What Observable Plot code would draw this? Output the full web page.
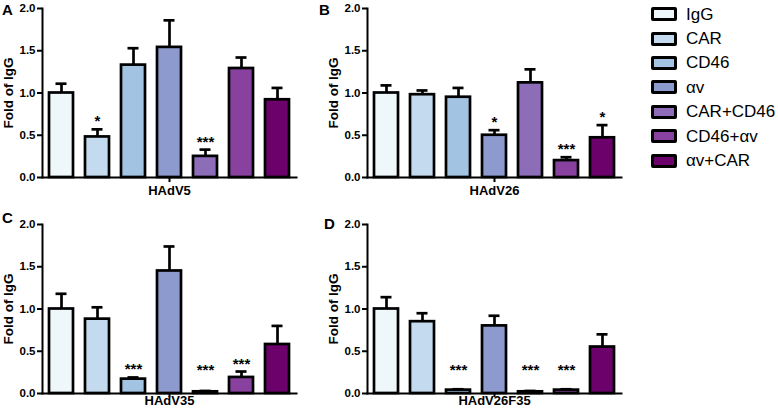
<!DOCTYPE html>
<html>
<head>
<meta charset="utf-8">
<script src="https://cdn.jsdelivr.net/npm/d3@7"></script>
<script src="https://cdn.jsdelivr.net/npm/@observablehq/plot@0.6"></script>
<style>
  html, body { margin: 0; padding: 0; background: #fff; color: #000; }
  #root { position: relative; width: 778px; height: 412px; overflow: hidden; font-family: "Liberation Sans", Arial, sans-serif; }
  .panel { position: absolute; }
  .panel svg { font-family: "Liberation Sans", Arial, sans-serif; color: #000; overflow: visible; }
  .letter { position: absolute; font-weight: bold; font-size: 15px; line-height: 1; }
  .legend { position: absolute; left: 651px; top: 2px; }
  .legend .row { display: flex; align-items: center; height: 24.4px; }
  .legend .box { width: 20px; height: 8px; border: 3px solid #000; border-radius: 2px; margin-right: 9px; }
  .legend .lab { font-size: 17px; line-height: 1; }
</style>
</head>
<body>
<div id="root"></div>
<script>
// ---- data ----
const groups = ["HAdV5", "HAdV26", "HAdV35", "HAdV26F35"];
const letters = ["A", "B", "C", "D"];
const treatments = ["IgG", "CAR", "CD46", "αv", "CAR+CD46", "CD46+αv", "αv+CAR"];
const colors = ["#eef8fb", "#c4daee", "#a2c3e2", "#8c9acd", "#8d6cb8", "#88419f", "#6c016b"];

const meanHAdV5      = [1.00, 0.48, 1.33, 1.54, 0.25, 1.29, 0.92];
const semHAdV5       = [0.11, 0.09, 0.20, 0.32, 0.08, 0.13, 0.14];
const starsHAdV5     = ["", "*", "", "", "***", "", ""];

const meanHAdV26     = [1.00, 0.98, 0.95, 0.50, 1.12, 0.20, 0.47];
const semHAdV26      = [0.09, 0.05, 0.11, 0.06, 0.16, 0.04, 0.15];
const starsHAdV26    = ["", "", "", "*", "", "***", "*"];

const meanHAdV35     = [1.00, 0.88, 0.17, 1.45, 0.02, 0.19, 0.58];
const semHAdV35      = [0.18, 0.14, 0.02, 0.29, 0.01, 0.07, 0.22];
const starsHAdV35    = ["", "", "***", "", "***", "***", ""];

const meanHAdV26F35  = [1.00, 0.85, 0.04, 0.80, 0.02, 0.04, 0.55];
const semHAdV26F35   = [0.14, 0.10, 0.01, 0.12, 0.01, 0.01, 0.15];
const starsHAdV26F35 = ["", "", "***", "", "***", "***", ""];

const yTicks = [0, 0.5, 1.0, 1.5, 2.0];
const yLabel = "Fold of IgG";

const means = [meanHAdV5, meanHAdV26, meanHAdV35, meanHAdV26F35];
const sems = [semHAdV5, semHAdV26, semHAdV35, semHAdV26F35];
const stars = [starsHAdV5, starsHAdV26, starsHAdV35, starsHAdV26F35];

// ---- layout ----
const root = document.getElementById("root");
const pos = [[0, 0], [325, 0], [0, 216], [325, 216]];
const letterPos = [[2, 2], [319, 2], [2, 210], [324, 216]];

function panel(i) {
  const bottomRow = i >= 2;
  const data = treatments.map((t, j) => ({
    t, v: means[i][j], e: means[i][j] + sems[i][j], s: stars[i][j]
  }));
  return Plot.plot({
    width: 300, height: 205,
    marginLeft: 42, marginRight: 4, marginTop: 8, marginBottom: 28,
    x: {domain: treatments, paddingInner: 0.333, paddingOuter: 0.167, axis: null},
    y: {domain: [0, 2], axis: null},
    color: {domain: treatments, range: colors},
    marks: [
      Plot.ruleX(data, {x: "t", y1: "v", y2: "e", stroke: "black", strokeWidth: 2.7}),
      Plot.tickY(data, {x: "t", y: "e", insetLeft: 6.5, insetRight: 6.5, stroke: "black", strokeWidth: 2.7}),
      Plot.barY(data, {x: "t", y: "v", fill: "t", stroke: "black", strokeWidth: 2.7}),
      Plot.text(data, {x: "t", y: d => Math.max(d.e, 0.18), text: "s", lineAnchor: "bottom", dy: -3,
        fontSize: 15, fontWeight: "bold", letterSpacing: "1px"}),
      Plot.axisY({ticks: yTicks, tickFormat: ".1f", tickSize: 5, tickPadding: 2, fontSize: 11.5, fontWeight: "bold", label: null, strokeWidth: 2}),
      Plot.axisX({ticks: ["αv"], tickFormat: () => groups[i], tickSize: bottomRow ? 4 : 5,
        tickPadding: bottomRow ? -2 : 3, fontSize: 13, fontWeight: "bold", label: null, strokeWidth: 2}),
      Plot.text([yLabel], {text: d => d, frameAnchor: "left", textAnchor: "middle", rotate: -90, dx: -34, fontSize: 13.5, fontWeight: "bold"}),
      Plot.frame({anchor: "left", strokeWidth: 2}),
      Plot.frame({anchor: "bottom", strokeWidth: 2})
    ]
  });
}

for (let i = 0; i < 4; i++) {
  const d = document.createElement("div");
  d.className = "panel";
  d.style.left = pos[i][0] + "px";
  d.style.top = pos[i][1] + "px";
  d.appendChild(panel(i));
  root.appendChild(d);
  const l = document.createElement("div");
  l.className = "letter";
  l.textContent = letters[i];
  l.style.left = letterPos[i][0] + "px";
  l.style.top = letterPos[i][1] + "px";
  root.appendChild(l);
}

const legend = document.createElement("div");
legend.className = "legend";
treatments.forEach((t, j) => {
  const row = document.createElement("div");
  row.className = "row";
  const box = document.createElement("div");
  box.className = "box";
  box.style.background = colors[j];
  const lab = document.createElement("span");
  lab.className = "lab";
  lab.textContent = t;
  row.appendChild(box);
  row.appendChild(lab);
  legend.appendChild(row);
});
root.appendChild(legend);
</script>
</body>
</html>
